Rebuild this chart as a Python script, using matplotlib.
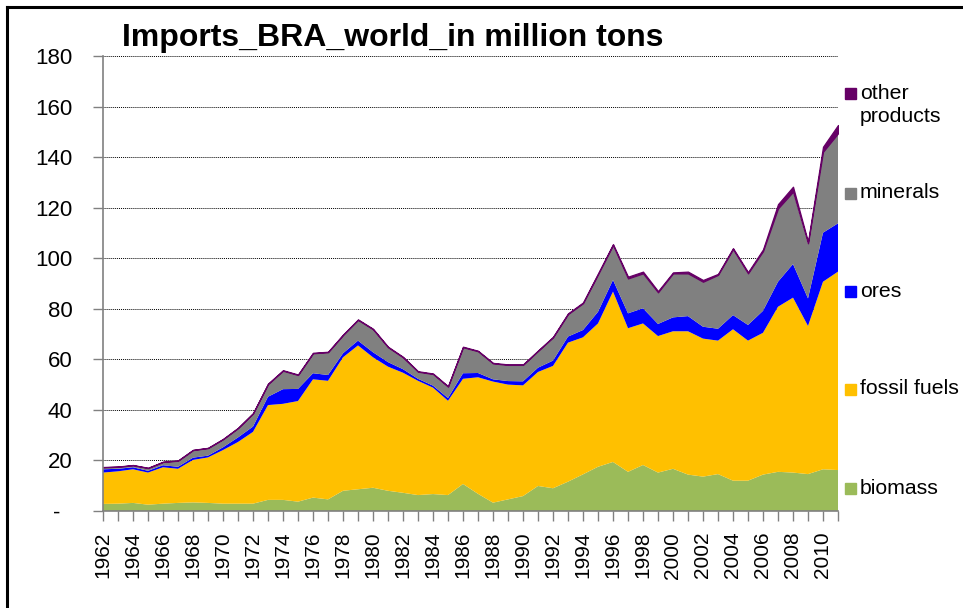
import numpy as np
import matplotlib.pyplot as plt
from matplotlib.patches import Rectangle
from matplotlib.lines import Line2D

plt.rcParams['font.family'] = ['Liberation Sans', 'DejaVu Sans']

# imports of Brazil from the world, million tons
years = list(range(1962, 2012))
biomass = [2.8, 2.9, 3.2, 2.5, 2.9, 3.2, 3.4, 3.2, 2.9, 2.9,
           2.9, 4.4, 4.4, 3.7, 5.3, 4.6, 8.0, 8.6, 9.2, 8.0,
           7.2, 6.3, 6.7, 6.3, 10.7, 6.8, 3.3, 4.6, 5.9, 9.9,
           9.0, 11.6, 14.5, 17.5, 19.4, 15.5, 18.2, 15.2, 16.7, 14.4,
           13.6, 14.6, 12.0, 12.0, 14.4, 15.5, 15.2, 14.6, 16.5, 16.2]
fossil_fuels = [12.4, 12.8, 13.3, 12.7, 14.4, 13.5, 16.8, 18.0, 21.2, 24.4,
                28.4, 37.5, 38.0, 39.8, 46.8, 46.9, 52.8, 56.9, 51.6, 49.1,
                47.5, 45.2, 42.1, 37.3, 41.6, 46.1, 47.9, 45.4, 43.8, 45.1,
                48.4, 55.0, 54.2, 56.7, 67.4, 56.8, 56.0, 54.0, 54.4, 56.7,
                54.6, 52.8, 59.9, 55.4, 56.1, 65.3, 69.2, 58.6, 74.2, 78.5]
ores = [1.3, 1.0, 0.8, 0.7, 0.8, 0.8, 0.9, 0.7, 1.1, 1.8,
        2.1, 3.3, 5.8, 4.8, 2.4, 2.3, 1.6, 1.9, 2.0, 1.8,
        1.4, 0.8, 0.8, 1.1, 2.2, 1.7, 0.9, 1.4, 1.6, 1.7,
        2.1, 2.4, 2.9, 4.6, 4.6, 5.9, 6.0, 4.8, 5.5, 6.0,
        4.7, 4.7, 5.6, 6.2, 8.7, 9.9, 13.3, 10.9, 19.4, 19.1]
minerals = [0.8, 0.8, 0.8, 1.1, 1.3, 2.4, 3.0, 3.0, 3.2, 3.7,
            5.2, 5.0, 7.3, 5.5, 7.9, 9.0, 7.2, 8.2, 9.1, 5.9,
            4.7, 2.8, 4.6, 4.5, 10.3, 8.6, 6.3, 6.4, 6.5, 6.6,
            9.2, 8.9, 10.6, 14.8, 13.8, 13.8, 13.8, 12.5, 17.4, 16.9,
            17.8, 21.3, 26.1, 20.4, 23.6, 29.0, 28.6, 21.8, 32.0, 35.6]
other_products = [0.1, 0.1, 0.1, 0.1, 0.1, 0.1, 0.1, 0.1, 0.1, 0.1,
                  0.1, 0.2, 0.2, 0.2, 0.2, 0.2, 0.2, 0.2, 0.2, 0.2,
                  0.2, 0.2, 0.2, 0.2, 0.2, 0.2, 0.2, 0.2, 0.2, 0.2,
                  0.2, 0.3, 0.3, 0.4, 0.4, 0.7, 0.7, 0.5, 0.4, 0.7,
                  0.7, 0.4, 0.4, 0.5, 0.7, 1.7, 2.0, 0.6, 2.0, 3.3]

legend_labels = ['biomass', 'fossil fuels', 'ores', 'minerals', 'other\nproducts']
colors = ['#9BBB59', '#FFC000', '#0000FF', '#808080', '#660066']
series = [biomass, fossil_fuels, ores, minerals, other_products]

fig = plt.figure(figsize=(9.63, 6.08), dpi=100)
ax = fig.add_axes([103 / 963, 1 - 511 / 608, 735 / 963, 455 / 608])

polys = ax.stackplot(years, *series, colors=colors, linewidth=0)
# outline the thin top layer so it stays visible
polys[-1].set_edgecolor('#660066')
polys[-1].set_linewidth(0.9)

ax.set_xlim(1962, 2011)
ax.set_ylim(0, 180)

ax.set_yticks(range(0, 181, 20))
ax.set_yticklabels(['-  '] + [str(v) for v in range(20, 181, 20)])
ax.set_xticks(years)
ax.set_xticklabels([str(y) if y % 2 == 0 else '' for y in years], rotation=90)

ax.tick_params(axis='y', direction='out', length=7, width=1, color='#808080',
               labelsize=16, pad=15)
ax.tick_params(axis='x', direction='out', length=7, width=1, color='#808080',
               labelsize=15, pad=8)

ax.yaxis.grid(True, color='black', linestyle=(0, (1, 1)), linewidth=0.7)
ax.set_axisbelow(True)
for s in ['top', 'right']:
    ax.spines[s].set_visible(False)
for s in ['left', 'bottom']:
    ax.spines[s].set_color('#808080')
    ax.spines[s].set_linewidth(1.2)

fig.text(122 / 963, 1 - 38 / 608, 'Imports_BRA_world_in million tons',
         fontsize=23, fontweight='bold', va='center', ha='left')

# legend down the right side, top item first
legend_y = [93, 193, 291, 389, 488]
for lab, col, y in zip(legend_labels[::-1], colors[::-1], legend_y):
    fig.patches.append(Rectangle((845 / 963, 1 - (y + 6) / 608), 11 / 963, 11 / 608,
                                 transform=fig.transFigure, color=col))
    if '\n' in lab:
        fig.text(860 / 963, 1 - (y - 9) / 608, lab, fontsize=15.3, va='top', ha='left',
                 linespacing=1.25)
    else:
        fig.text(860 / 963, 1 - y / 608, lab, fontsize=15.3, va='center', ha='left')

# outer frame of the chart
fig.add_artist(Line2D([7 / 963, 7 / 963], [0, 1 - 7 / 608], color='black', lw=2.2,
                      transform=fig.transFigure))
fig.add_artist(Line2D([7 / 963, 1], [1 - 7 / 608, 1 - 7 / 608], color='black', lw=2.2,
                      transform=fig.transFigure))

fig.savefig('out.png', dpi=100)
